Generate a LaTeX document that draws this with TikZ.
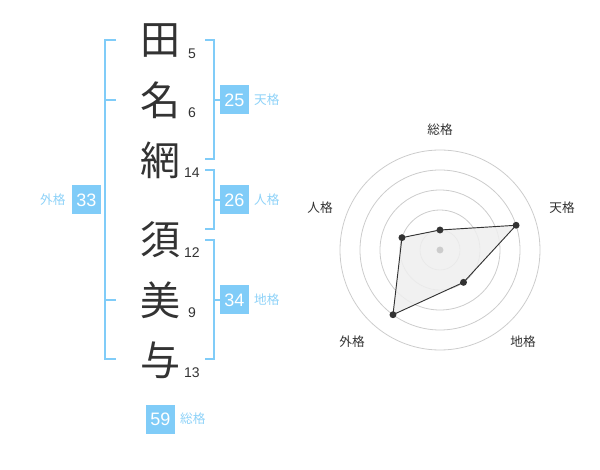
\documentclass[tikz,border=0pt]{standalone}
\usepackage{fontspec}
\setmainfont{Liberation Sans}
\newfontfamily\jpfont{Noto Sans CJK JP}
\usetikzlibrary{positioning}

\definecolor{kakublue}{HTML}{80CCF8}
\definecolor{kakutext}{HTML}{8ED2F8}
\definecolor{inkgray}{HTML}{333333}
\definecolor{ringgray}{HTML}{CCCCCC}
\definecolor{areagray}{HTML}{EFEFEF}

\tikzset{
  kanji/.style={font=\jpfont\fontsize{30}{30}\selectfont, text=inkgray, inner sep=0pt},
  strokes/.style={font=\fontsize{10.5}{12}\selectfont, text=inkgray, inner sep=0pt},
  kakubox/.style={fill=kakublue, text=white, minimum size=21.75pt, inner sep=0pt,
    font=\fontsize{13.5}{14}\selectfont},
  kakulabel/.style={font=\jpfont\fontsize{9.5}{10}\selectfont, text=kakutext, inner sep=0pt},
  bracket/.style={draw=kakublue, line width=1.5pt},
  ring/.style={draw=ringgray, line width=0.6pt},
  radarlabel/.style={font=\jpfont\fontsize{9.5}{10}\selectfont, text=inkgray, inner sep=0pt},
  dot/.style={circle, fill=inkgray, inner sep=0pt, minimum size=5.2pt}
}

\begin{document}
\begin{tikzpicture}[x=0.75pt, y=-0.75pt]

    \useasboundingbox (0,0) rectangle (600,470);

    % Draw the name characters and their stroke counts
    \node[kanji] (ta)  at (160,41)  {田};
    \node[kanji] (na)  at (160,100) {名};
    \node[kanji] (ami) at (160,160) {網};
    \node[kanji] (su)  at (160,240) {須};
    \node[kanji] (mi)  at (160,300) {美};
    \node[kanji] (yo)  at (160,360) {与};
    \node[strokes] (nta)  at (192,53.5)  {5};
    \node[strokes] (nna)  at (192,113) {6};
    \node[strokes] (nami) at (192,173) {14};
    \node[strokes] (nsu)  at (192,253) {12};
    \node[strokes] (nmi)  at (192,313) {9};
    \node[strokes] (nyo)  at (192,373) {13};

    % Draw the brackets
    \draw[bracket] (116,40) -- (105,40) -- (105,359.5) -- (116,359.5);
    \draw[bracket] (105,100) -- (116,100);
    \draw[bracket] (105,300) -- (116,300);
    \draw[bracket] (205,40) -- (214,40) -- (214,159.5) -- (205,159.5);
    \draw[bracket] (214,100) -- (220,100);
    \draw[bracket] (205,170) -- (214,170) -- (214,229.5) -- (205,229.5);
    \draw[bracket] (214,200) -- (220,200);
    \draw[bracket] (205,240) -- (214,240) -- (214,359.5) -- (205,359.5);
    \draw[bracket] (214,300) -- (220,300);

    % Mark the totals
    \node[kakubox] (ten)  at (234.5,100) {25};
    \node[kakubox] (jin)  at (234.5,200) {26};
    \node[kakubox] (chi)  at (234.5,300) {34};
    \node[kakubox] (gai)  at (86.5,200)  {33};
    \node[kakubox] (sou)  at (160.5,419) {59};
    \node[kakulabel, right=3.5pt of ten] (lten) {天格};
    \node[kakulabel, right=3.5pt of jin] (ljin) {人格};
    \node[kakulabel, right=3.5pt of chi] (lchi) {地格};
    \node[kakulabel, left=4.5pt of gai]  (lgai) {外格};
    \node[kakulabel, right=3.5pt of sou] (lsou) {総格};

    % Draw the radar chart
    \begin{scope}[shift={(440,250)}]
      \foreach \r in {15,30,45,60,75}
        \draw[ring] (0,0) circle[radius=\r pt];
      \coordinate (psou) at (90:15pt);
      \coordinate (pten) at (18:60pt);
      \coordinate (pchi) at (-54:30pt);
      \coordinate (pgai) at (234:60pt);
      \coordinate (pjin) at (162:30pt);
      \filldraw[fill=areagray, fill opacity=0.85, draw=inkgray, line width=0.7pt]
        (psou) -- (pten) -- (pchi) -- (pgai) -- (pjin) -- cycle;
      \node[dot, fill=ringgray] (centre) at (0,0) {};
      \foreach \p in {psou,pten,pchi,pgai,pjin}
        \node[dot] (d\p) at (\p) {};
    \end{scope}

    % Add the radar labels
    \node[radarlabel] (rsou) at (440,130)   {総格};
    \node[radarlabel] (rten) at (562,208)   {天格};
    \node[radarlabel] (rjin) at (320,208)   {人格};
    \node[radarlabel] (rgai) at (352,342)   {外格};
    \node[radarlabel] (rchi) at (523,342)   {地格};

\end{tikzpicture}
\end{document}
